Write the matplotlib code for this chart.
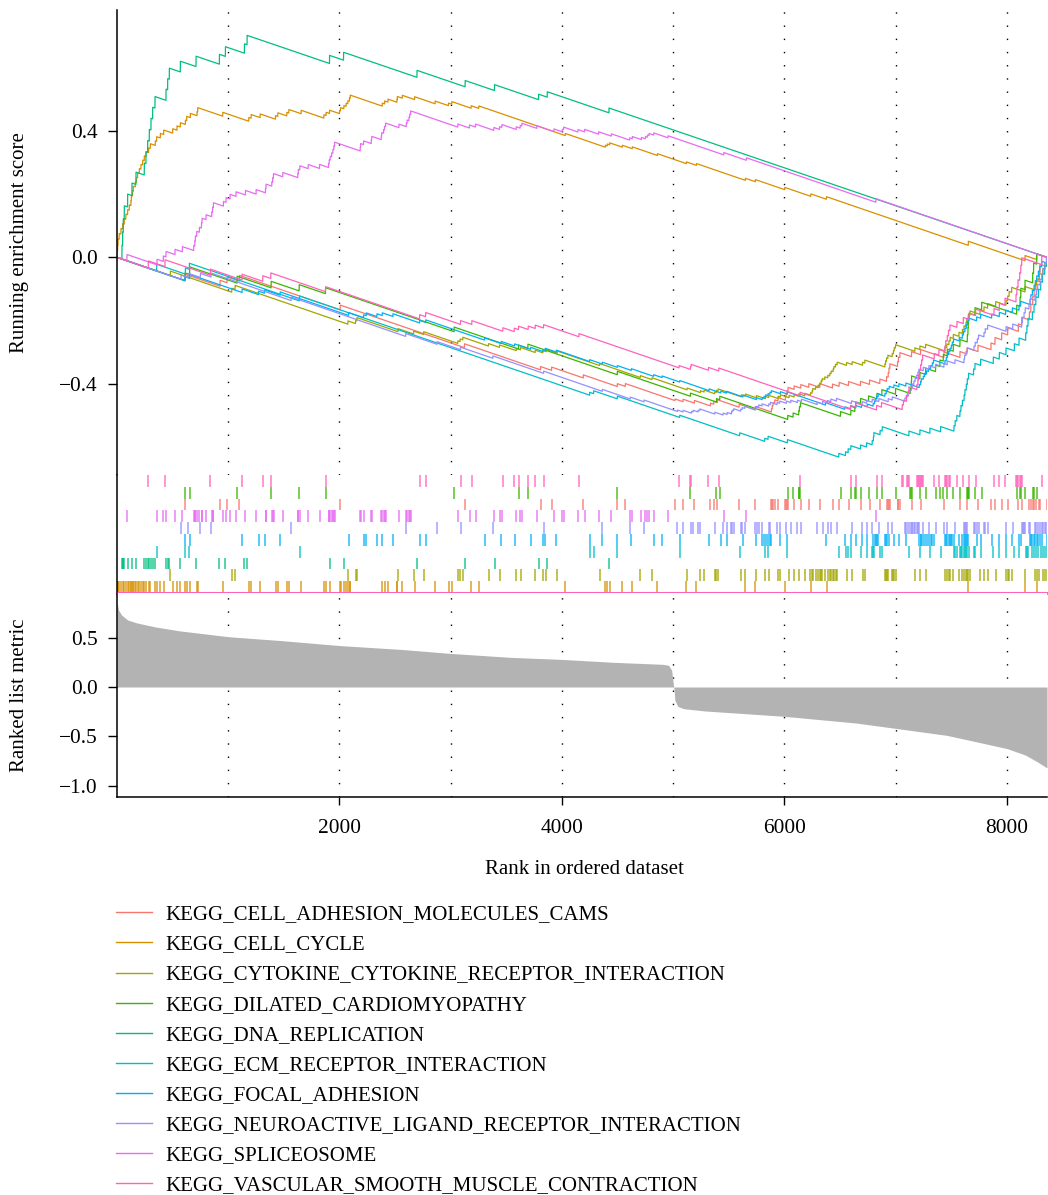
import numpy as np
import matplotlib
matplotlib.use("Agg")
import matplotlib.pyplot as plt
from matplotlib.lines import Line2D

plt.rcParams['font.family'] = ['Liberation Serif', 'DejaVu Serif']

# ranked gene list
N = 8360
metric_rank = [1, 14, 41, 95, 177, 340, 557, 1000, 1481, 2002, 2568, 3003, 3546, 3997,
               4470, 4905, 4959, 4986, 5002, 5008, 5015, 5041, 5095, 5286, 5998, 6644,
               7003, 7460, 7731, 8003, 8166, 8275, 8360]
metric_value = [0.86, 0.78, 0.73, 0.68, 0.65, 0.61, 0.57, 0.51, 0.47, 0.42, 0.38, 0.34,
                0.30, 0.28, 0.25, 0.23, 0.22, 0.17, 0.02, -0.03, -0.135, -0.196, -0.22,
                -0.243, -0.297, -0.365, -0.42, -0.49, -0.557, -0.625, -0.69, -0.76, -0.82]

set_names = ["KEGG_CELL_ADHESION_MOLECULES_CAMS", "KEGG_CELL_CYCLE",
             "KEGG_CYTOKINE_CYTOKINE_RECEPTOR_INTERACTION", "KEGG_DILATED_CARDIOMYOPATHY",
             "KEGG_DNA_REPLICATION", "KEGG_ECM_RECEPTOR_INTERACTION", "KEGG_FOCAL_ADHESION",
             "KEGG_NEUROACTIVE_LIGAND_RECEPTOR_INTERACTION", "KEGG_SPLICEOSOME",
             "KEGG_VASCULAR_SMOOTH_MUSCLE_CONTRACTION"]
set_colors = ["#F8766D", "#D89000", "#A3A500", "#39B600", "#00BF7D",
              "#00BFC4", "#00B0F6", "#9590FF", "#E76BF3", "#FF62BC"]
# row of each set in the hit panel, counted from the bottom
set_rows = [7, 0, 1, 8, 2, 3, 4, 5, 6, 9]

hits_cams = [612, 927, 990, 1101, 2007, 3124, 3808, 3907, 4192, 4498, 4570, 5017, 5089,
             5191, 5335, 5365, 5398, 5593, 5739, 5883, 5890, 5898, 5913, 5943, 6009, 6015,
             6024, 6033, 6087, 6147, 6219, 6318, 6432, 6492, 6576, 6684, 6765, 6858, 6918,
             6933, 6940, 6948, 7017, 7025, 7038, 7143, 7224, 7434, 7578, 7641, 7740, 7857,
             7893, 7953, 8007, 8103, 8133, 8202, 8215, 8232, 8245, 8262, 8290, 8298, 8358]
hits_cell_cycle = [1, 6, 10, 20, 36, 51, 66, 80, 96, 111, 126, 130, 140, 147, 165, 175,
                   186, 201, 216, 231, 246, 261, 285, 300, 345, 357, 390, 420, 501, 540,
                   570, 615, 627, 660, 720, 726, 951, 1185, 1206, 1287, 1425, 1446, 1527,
                   1545, 1656, 1860, 1880, 1911, 2001, 2010, 2040, 2060, 2076, 2090, 2097,
                   2385, 2406, 2436, 2517, 2520, 2565, 2676, 2860, 2980, 3010, 3184, 3253,
                   4030, 4390, 4408, 4429, 4543, 4633, 4858, 5119, 5209, 5649, 5739, 6003,
                   6237, 6378, 7653, 8163, 8268]
hits_cytokine = [480, 1032, 1062, 2076, 2145, 2157, 2526, 2667, 2757, 3064, 3085, 3109,
                 3340, 3439, 3589, 3628, 3760, 3829, 3859, 3958, 4339, 4705, 4810, 5125,
                 5245, 5278, 5374, 5389, 5404, 5613, 5649, 5748, 5829, 5859, 5943, 5964,
                 6042, 6087, 6129, 6183, 6234, 6249, 6255, 6280, 6303, 6318, 6330, 6339,
                 6363, 6390, 6408, 6420, 6438, 6445, 6459, 6474, 6558, 6609, 6702, 6723,
                 6903, 6910, 6918, 6930, 6969, 6980, 6987, 6999, 7173, 7218, 7269, 7443,
                 7460, 7479, 7490, 7518, 7569, 7600, 7614, 7632, 7640, 7653, 7668, 7758,
                 7794, 7827, 7899, 7992, 8007, 8020, 8043, 8163, 8253, 8268, 8290, 8322,
                 8340, 8358]
hits_dilated = [612, 654, 1080, 1386, 1638, 1875, 3031, 3610, 3694, 4498, 5155, 5389,
                5419, 6030, 6078, 6129, 6135, 6144, 6504, 6597, 6633, 6640, 6684, 6756,
                6831, 6876, 6999, 7131, 7140, 7143, 7218, 7269, 7359, 7398, 7428, 7464,
                7518, 7578, 7644, 7650, 7653, 7660, 7713, 7773, 8088, 8118, 8125, 8163,
                8232, 8240, 8268]
hits_dna = [45, 51, 57, 66, 96, 135, 171, 246, 261, 276, 291, 306, 321, 342, 441, 456,
            471, 570, 711, 921, 975, 1146, 1170, 1911, 2037, 2697, 3130, 3394, 3790, 3868,
            4423]
hits_ecm = [357, 615, 651, 1641, 4249, 4285, 4498, 5059, 5598, 5823, 5853, 6027, 6489,
            6549, 6573, 6597, 6684, 6738, 6789, 6800, 6804, 6860, 6879, 7119, 7218, 7308,
            7404, 7524, 7535, 7550, 7578, 7587, 7600, 7615, 7623, 7635, 7644, 7655, 7700,
            7713, 7764, 7878, 7932, 7992, 8067, 8109, 8169, 8180, 8190, 8229, 8244, 8260,
            8283, 8304, 8320, 8340, 8358]
hits_focal = [612, 654, 1125, 1272, 1326, 1467, 2082, 2217, 2241, 2337, 2385, 2481, 2721,
              2775, 3304, 3454, 3574, 3718, 3829, 3850, 3949, 4249, 4363, 4498, 4624, 4825,
              4900, 5059, 5323, 5428, 5479, 5628, 5748, 5800, 5817, 5832, 5853, 5870, 5883,
              5964, 6027, 6369, 6543, 6594, 6642, 6693, 6744, 6798, 6810, 6819, 6830, 6843,
              6903, 6915, 6924, 6942, 6984, 7029, 7092, 7212, 7224, 7230, 7248, 7260, 7278,
              7295, 7314, 7329, 7340, 7443, 7455, 7464, 7475, 7488, 7500, 7509, 7520, 7572,
              7599, 7610, 7623, 7635, 7644, 7653, 7728, 7764, 7863, 7932, 7989, 8049, 8109,
              8124, 8208, 8215, 8229, 8244, 8255, 8268, 8283, 8295, 8313, 8358]
hits_neuro = [576, 639, 750, 846, 1566, 2595, 2878, 3088, 3379, 3835, 4363, 4615, 4738,
              5038, 5089, 5164, 5179, 5224, 5239, 5374, 5449, 5485, 5523, 5530, 5544, 5607,
              5620, 5643, 5739, 5750, 5769, 5799, 5859, 5874, 5934, 5958, 6018, 6057, 6117,
              6153, 6294, 6342, 6387, 6417, 6468, 6603, 6699, 6738, 6789, 6849, 6933, 6969,
              7083, 7095, 7113, 7125, 7143, 7150, 7164, 7175, 7188, 7200, 7209, 7248, 7299,
              7359, 7434, 7464, 7533, 7614, 7620, 7632, 7645, 7704, 7715, 7734, 7745, 7794,
              7805, 7827, 7992, 8052, 8133, 8140, 8154, 8165, 8199, 8210, 8253, 8265, 8277,
              8298, 8313, 8325, 8343, 8355]
hits_spliceosome = [90, 360, 417, 441, 522, 588, 690, 700, 705, 717, 741, 760, 765, 801,
                    852, 860, 867, 957, 981, 1017, 1071, 1155, 1251, 1335, 1340, 1392, 1400,
                    1407, 1491, 1626, 1630, 1644, 1719, 1821, 1902, 1908, 1917, 1930, 1941,
                    1950, 1956, 2187, 2190, 2217, 2286, 2290, 2376, 2380, 2397, 2405, 2415,
                    2535, 2601, 2608, 2625, 2632, 2640, 3064, 3169, 3223, 3388, 3439, 3460,
                    3589, 3625, 3640, 3775, 3928, 4003, 4015, 4144, 4204, 4330, 4444, 4609,
                    4633, 4714, 4750, 4768, 4783, 4825, 4954, 5455, 5658, 6822]
hits_vsmc = [282, 432, 840, 1125, 1311, 1383, 1875, 2721, 2775, 3088, 3190, 3469, 3571,
             3610, 3697, 3760, 3835, 4153, 5053, 5155, 5161, 5317, 5410, 6141, 6594, 6642,
             6828, 6873, 7059, 7070, 7098, 7110, 7119, 7191, 7200, 7206, 7215, 7224, 7233,
             7242, 7347, 7389, 7443, 7450, 7464, 7475, 7488, 7551, 7608, 7659, 7719, 7884,
             7932, 7983, 8082, 8090, 8100, 8115, 8125, 8133, 8313]

all_hits = [hits_cams, hits_cell_cycle, hits_cytokine, hits_dilated, hits_dna, hits_ecm,
            hits_focal, hits_neuro, hits_spliceosome, hits_vsmc]


def running_score(hits):
    # weighted running enrichment score (GSEA, weight = |metric|)
    idx = np.unique(np.clip(np.asarray(hits), 1, N)) - 1
    w = np.zeros(N)
    w[idx] = np.abs(np.interp(idx + 1, metric_rank, metric_value))
    miss = np.ones(N)
    miss[idx] = 0
    es = np.cumsum(w) / w.sum() - np.cumsum(miss) / miss.sum()
    return np.concatenate([[0.0], es])


W, H = 1048, 1195
fig = plt.figure(figsize=(W / 100, H / 100), dpi=100)


def box(x0, y0, x1, y1):
    return [x0 / W, 1 - y1 / H, (x1 - x0) / W, (y1 - y0) / H]


ax_es = fig.add_axes(box(117, 10, 1047, 475))
ax_hit = fig.add_axes(box(117, 475, 1047, 593))
ax_rank = fig.add_axes(box(117, 593, 1047, 797))

grid_x = [1000, 2000, 3000, 4000, 5000, 6000, 7000, 8000]
for ax in (ax_es, ax_hit, ax_rank):
    ax.set_xlim(0, N)
    for s in ("top", "right", "bottom"):
        ax.spines[s].set_visible(False)
    ax.spines["left"].set_linewidth(1.1)
    ax.tick_params(axis="x", bottom=False, labelbottom=False)
    ax.tick_params(axis="y", length=6.5, width=1.0, labelsize=15.4, pad=7.5)

for ax in (ax_es, ax_rank):
    for gx in grid_x:
        ax.axvline(gx, color="black", lw=1.0, linestyle=(0, (1, 8.5)), zorder=0)

# running enrichment scores
x_es = np.arange(0, N + 1)
for hits, col in zip(all_hits, set_colors):
    ax_es.plot(x_es, running_score(hits), color=col, lw=0.9, zorder=2)
ax_es.set_ylim(-0.689, 0.783)
ax_es.set_yticks([-0.4, 0.0, 0.4])

# hit positions
for hits, col, row in zip(all_hits, set_colors, set_rows):
    ax_hit.vlines(hits, row, row + 1, color=col, lw=1.1, alpha=0.85)
ax_hit.axhline(0, color=set_colors[-1], lw=2.2, clip_on=False, zorder=3)
ax_hit.set_ylim(0, 10)
ax_hit.set_yticks([])

# ranked list metric
ax_rank.fill_between(metric_rank, metric_value, 0, color="#B3B3B3", lw=0, zorder=1)
ax_rank.set_ylim(-1.115, 0.953)
ax_rank.set_yticks([-1.0, -0.5, 0.0, 0.5])
ax_rank.spines["bottom"].set_visible(True)
ax_rank.spines["bottom"].set_linewidth(1.1)
ax_rank.set_xticks([2000, 4000, 6000, 8000])
ax_rank.tick_params(axis="x", bottom=True, labelbottom=True, length=6, width=1.0,
                    labelsize=15.4, pad=10)

fig.text(20 / W, 1 - 243 / H, "Running enrichment score", rotation=90,
         ha="center", va="center", fontsize=15)
fig.text(20 / W, 1 - 695 / H, "Ranked list metric", rotation=90,
         ha="center", va="center", fontsize=15)
fig.text(584 / W, 1 - 870 / H, "Rank in ordered dataset", ha="center", va="center",
         fontsize=15)

# legend
for i, (name, col) in enumerate(zip(set_names, set_colors)):
    yy = 1 - (912.3 + i * 30.1) / H
    fig.add_artist(Line2D([116 / W, 152 / W], [yy, yy], color=col, lw=1.0))
    fig.text(165.5 / W, yy, name, ha="left", va="center_baseline", fontsize=15)

fig.savefig("out.png", dpi=100)
